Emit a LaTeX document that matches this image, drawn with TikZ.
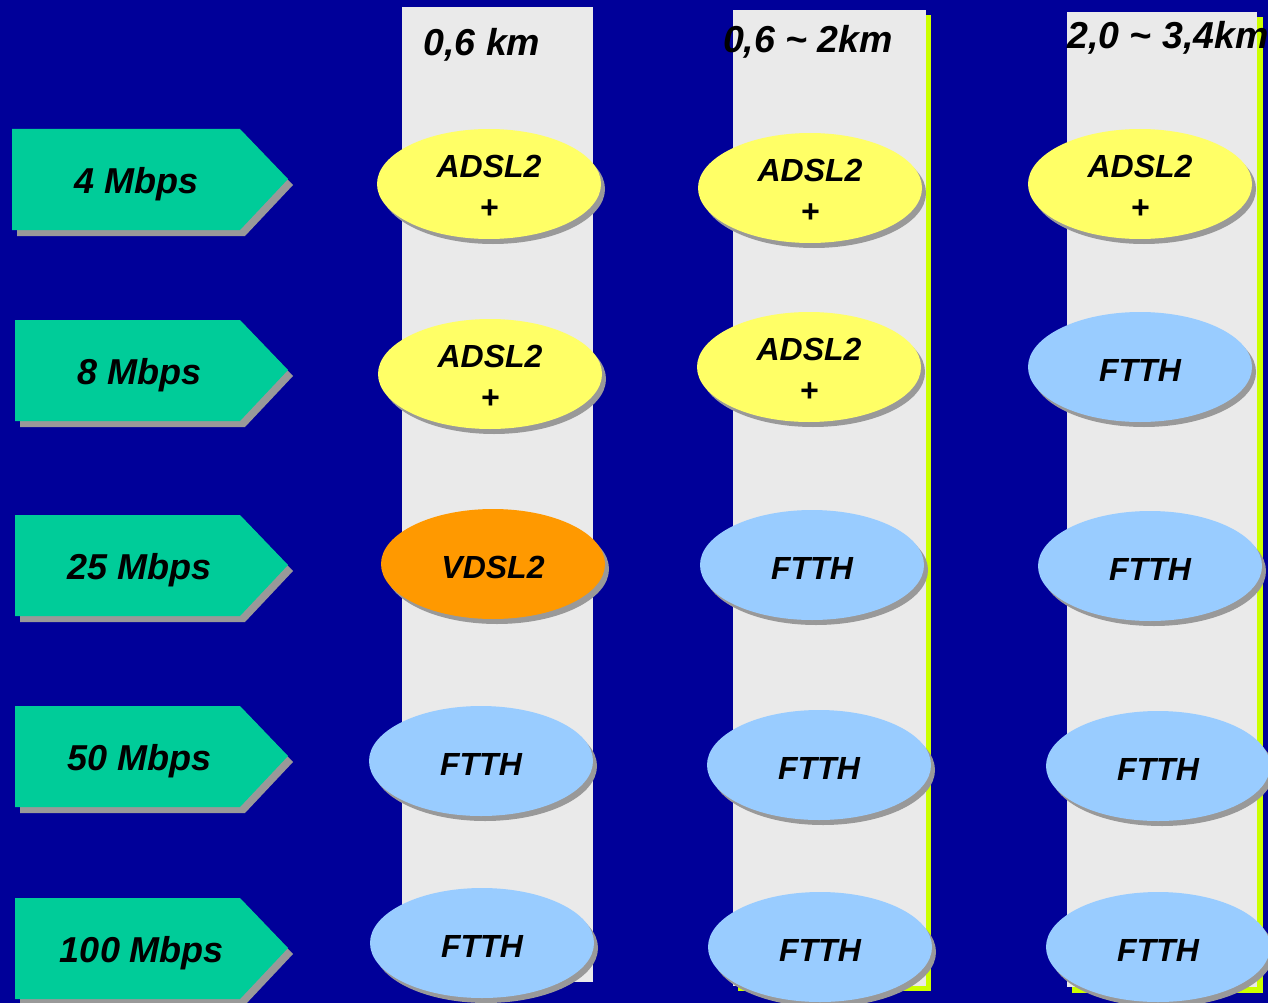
\documentclass[tikz,border=0pt]{standalone}
\usepackage{fontspec}
\setmainfont{Liberation Sans}
\usetikzlibrary{shapes.geometric,shadows}
\definecolor{bg}{HTML}{000099}
\definecolor{colfill}{HTML}{EAEAEA}
\definecolor{colshadow}{HTML}{CCFF00}
\definecolor{labgreen}{HTML}{00CC99}
\definecolor{shgray}{HTML}{999999}
\definecolor{ellyellow}{HTML}{FFFF66}
\definecolor{ellblue}{HTML}{99CCFF}
\definecolor{ellorange}{HTML}{FF9900}
\begin{document}
\begin{tikzpicture}[x=1pt,y=-1pt,
  headtext/.style={inner sep=0pt, font=\fontsize{37.5}{44}\selectfont\bfseries\itshape},
  ratetext/.style={inner sep=0pt, font=\fontsize{36}{42}\selectfont\bfseries\itshape},
  etext/.style={inner sep=0pt, align=center, font=\fontsize{32}{41}\selectfont\bfseries\itshape},
  ell/.style={ellipse, minimum width=224pt, minimum height=110pt, inner sep=0pt,
    drop shadow={shadow xshift=4pt, shadow yshift=-5pt, fill=shgray, opacity=1}},
  adsl/.style={ell, fill=ellyellow},
  ftth/.style={ell, fill=ellblue},
  vdsl/.style={ell, fill=ellorange}]
\fill[bg] (0,0) rectangle (1268,1003);
\useasboundingbox (0,0) rectangle (1268,1003);

% columns
\fill[colfill] (402,7) rectangle (593,982);
\fill[colshadow] (738,15) rectangle (931,991);
\fill[colfill] (733,10) rectangle (926,986);
\fill[colshadow] (1072,17) rectangle (1263,993);
\fill[colfill] (1067,12) rectangle (1257,987);

% headers
\node[headtext] (h1) at (482,45) {0,6 km};
\node[headtext] (h2) at (808,42) {0,6 \textasciitilde{} 2km};
\node[headtext] (h3) at (1168,38) {2,0 \textasciitilde{} 3,4km};

% rate labels
\foreach \i/\xl/\yy/\tx/\ty/\t in {1/12/129/137/184/4 Mbps, 2/15/320/140/375/8 Mbps, 3/15/515/140/570/25 Mbps, 4/15/706/140/761/50 Mbps, 5/15/898/142/953/100 Mbps}{
  \fill[shgray, shift={(5,6)}] (\xl,\yy) -- (240,\yy) -- (288,\yy+50) -- (240,\yy+101) -- (\xl,\yy+101) -- cycle;
  \fill[labgreen] (\xl,\yy) -- (240,\yy) -- (288,\yy+50) -- (240,\yy+101) -- (\xl,\yy+101) -- cycle;
  \node[ratetext] (rate\i) at (\tx,\ty) {\t};
}

% ellipses: name / style / position / text
\foreach \n/\s/\px/\py/\t in {
  a11/adsl/489/184/ADSL2\\+, a12/adsl/490/374/ADSL2\\+, a13/vdsl/493/564/VDSL2,
  a14/ftth/481/761/FTTH, a15/ftth/482/943/FTTH,
  a21/adsl/810/188/ADSL2\\+, a22/adsl/809/367/ADSL2\\+, a23/ftth/812/565/FTTH,
  a24/ftth/819/765/FTTH, a25/ftth/820/947/FTTH,
  a31/adsl/1140/184/ADSL2\\+, a32/ftth/1140/367/FTTH, a33/ftth/1150/566/FTTH,
  a34/ftth/1158/766/FTTH, a35/ftth/1158/947/FTTH}{
  \node[\s] (\n) at (\px,\py) {};
  \node[etext] (\n t) at ([yshift=-3pt]\n.center) {\t};
}
\end{tikzpicture}
\end{document}
